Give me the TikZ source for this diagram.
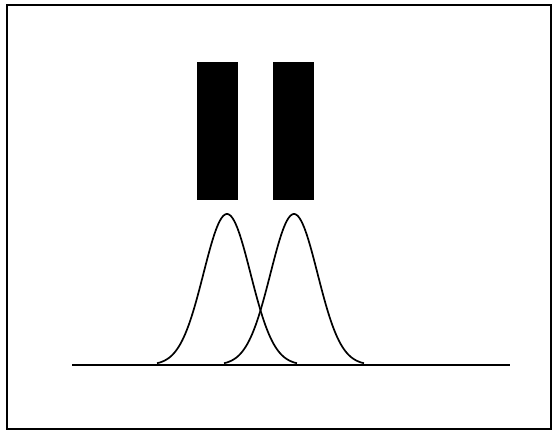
\documentclass[tikz,border=0pt]{standalone}
\usetikzlibrary{positioning}
\tikzset{
  every picture/.style={line width=1.4pt},
  frame/.style={draw=black, line width=2pt},
  bar/.style={fill=black, draw=none},
  bell/.style={draw=black, line width=1.7pt, smooth, samples=90},
  axisline/.style={draw=black, line width=1.8pt},
}
\begin{document}
\begin{tikzpicture}[x=1pt, y=-1pt]
  \useasboundingbox (0,0) rectangle (557,432);
  % frame
  \draw[frame] (7,5) rectangle (551,429);
  % bars
  \fill[bar] (197,62) rectangle (238,200);
  \fill[bar] (273,62) rectangle (314,200);
  % baseline
  \draw[axisline] (72,365) -- (510,365);
  % response curves
  \draw[bell] plot[domain=157:297] (\x, {365-151*exp(-((\x-227)^2)/(2*23.5^2))});
  \draw[bell] plot[domain=224:364] (\x, {365-151*exp(-((\x-294)^2)/(2*23.5^2))});
\end{tikzpicture}
\end{document}
